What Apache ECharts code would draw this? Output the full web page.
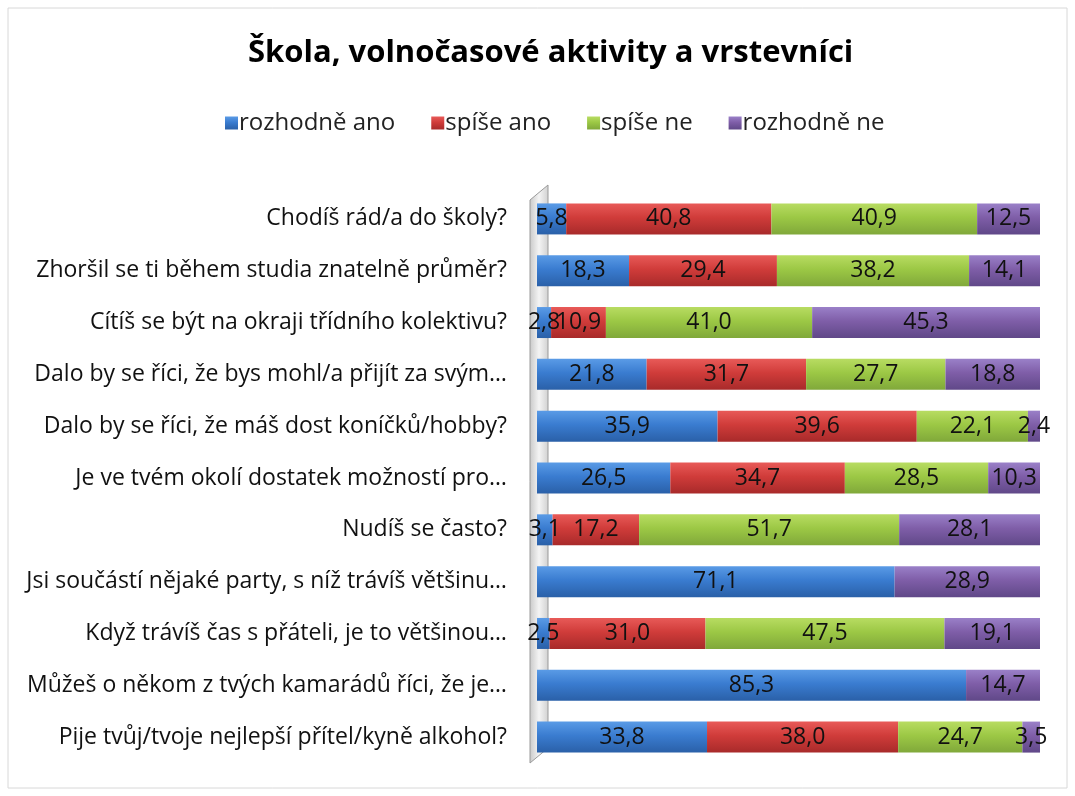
<!DOCTYPE html>
<html><head><meta charset="utf-8">
<script src="https://cdn.jsdelivr.net/npm/echarts@6/dist/echarts.min.js"></script>
<style>html,body{margin:0;padding:0;background:#fff}#c{width:1075px;height:796px}</style>
</head><body><div id="c"></div>
<script>
const categories = [
  "Chodíš rád/a do školy?",
  "Zhoršil se ti během studia znatelně průměr?",
  "Cítíš se být na okraji třídního kolektivu?",
  "Dalo by se říci, že bys mohl/a přijít za svým…",
  "Dalo by se říci, že máš dost koníčků/hobby?",
  "Je ve tvém okolí dostatek možností pro…",
  "Nudíš se často?",
  "Jsi součástí nějaké party, s níž trávíš většinu…",
  "Když trávíš čas s přáteli, je to většinou…",
  "Můžeš o někom z tvých kamarádů říci, že je…",
  "Pije tvůj/tvoje nejlepší přítel/kyně alkohol?"
];
const seriesNames = ["rozhodně ano", "spíše ano", "spíše ne", "rozhodně ne"];
const rozhodneAno = [5.8, 18.3, 2.8, 21.8, 35.9, 26.5, 3.1, 71.1, 2.5, 85.3, 33.8];
const spiseAno    = [40.8, 29.4, 10.9, 31.7, 39.6, 34.7, 17.2, 0, 31.0, 0, 38.0];
const spiseNe     = [40.9, 38.2, 41.0, 27.7, 22.1, 28.5, 51.7, 0, 47.5, 0, 24.7];
const rozhodneNe  = [12.5, 14.1, 45.3, 18.8, 2.4, 10.3, 28.1, 28.9, 19.1, 14.7, 3.5];

const values = [rozhodneAno, spiseAno, spiseNe, rozhodneNe];
const grads = [
  ['#5a9be6', '#3a7cd0', '#2a60a8'],
  ['#e85a58', '#d03c3a', '#a82a2a'],
  ['#b8dc62', '#9cc845', '#80a83a'],
  ['#9a80c8', '#7f5ea8', '#604888']
];
const font = '"Open Sans", "Noto Sans", sans-serif';

const chart = echarts.init(document.getElementById('c'));
chart.setOption({
  backgroundColor: '#fff',
  animation: false,
  title: {
    text: 'Škola, volnočasové aktivity a vrstevníci',
    left: 243, top: 33,
    textStyle: { fontFamily: font, fontSize: 31, fontWeight: 'bold', color: '#000' }
  },
  legend: {
    top: 106, left: 220, itemGap: 36, itemWidth: 13, itemHeight: 13,
    icon: 'rect',
    textStyle: { fontFamily: font, fontSize: 24, color: '#222', padding: [0,0,0,-4] },
    data: seriesNames
  },
  graphic: [
    { type: 'rect', shape: { x: 8, y: 8, width: 1059, height: 780 },
      style: { fill: 'none', stroke: '#d8d8d8', lineWidth: 1 }, z: -10 },
    { type: 'polygon', shape: { points: [[530, 200], [548, 185], [548, 748], [530, 763]] },
      style: { fill: new echarts.graphic.LinearGradient(0, 0, 1, 0, [
        { offset: 0, color: '#c8c8c8' }, { offset: 0.5, color: '#f4f4f4' }, { offset: 1, color: '#d0d0d0' }]),
        stroke: '#9a9a9a', lineWidth: 1 }, z: -5 }
  ],
  grid: { left: 537, right: 35, top: 193, bottom: 33 },
  xAxis: { type: 'value', min: 0, max: 100, show: false },
  yAxis: {
    type: 'category', data: categories, inverse: true,
    axisLine: { show: false }, axisTick: { show: false },
    axisLabel: { fontFamily: font, fontSize: 23, color: '#111', margin: 30 }
  },
  series: values.map((v, i) => ({
    name: seriesNames[i], type: 'bar', stack: 'total', barWidth: 31,
    data: v.map(x => x === 0 ? null : x),
    itemStyle: {
      color: new echarts.graphic.LinearGradient(0, 0, 0, 1, [
        { offset: 0, color: grads[i][0] }, { offset: 0.45, color: grads[i][1] }, { offset: 1, color: grads[i][2] }])
    },
    label: {
      show: true, position: 'inside', color: '#111',
      fontFamily: font, fontSize: 23,
      formatter: p => p.value.toFixed(1).replace('.', ',')
    }
  }))
});
</script></body></html>
